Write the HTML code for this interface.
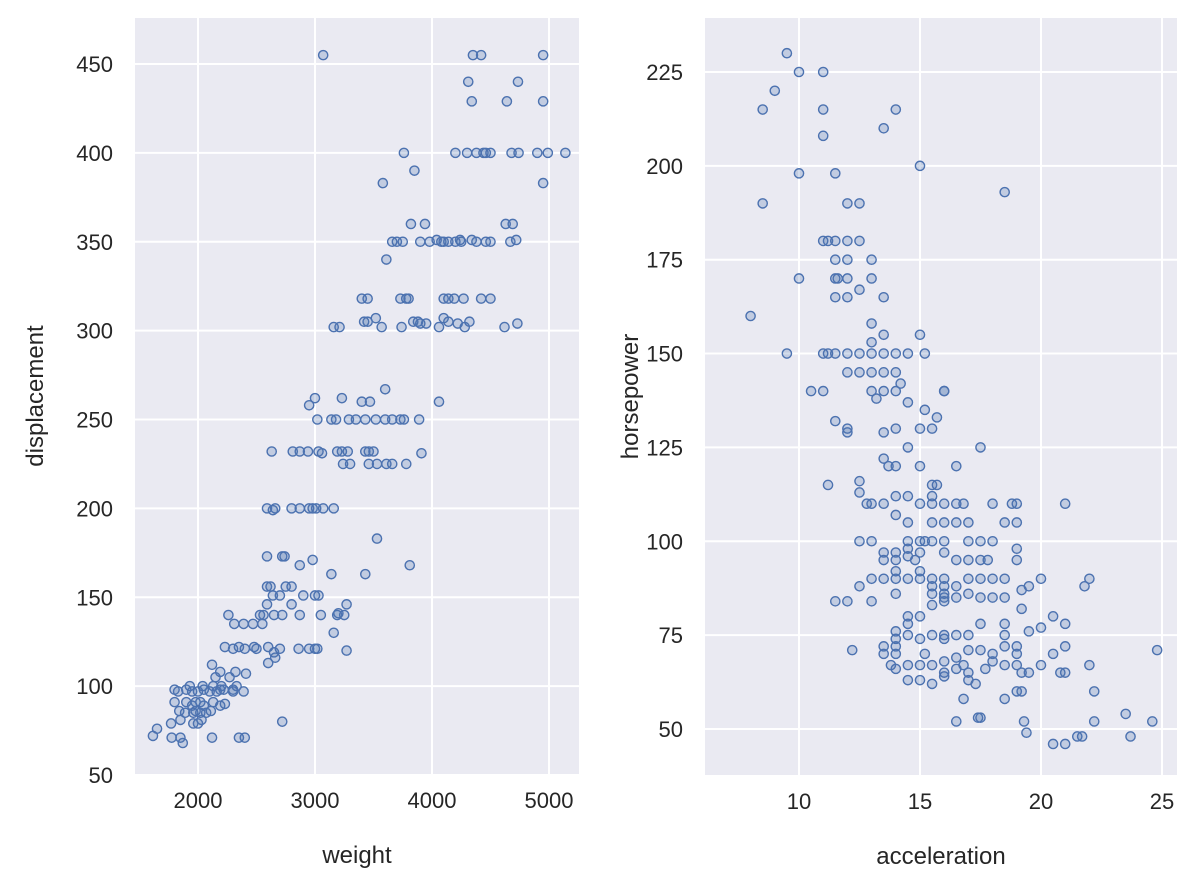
<!DOCTYPE html>
<html><head><meta charset="utf-8"><style>
body{margin:0;background:#fff;}
svg{font-family:"Liberation Sans","DejaVu Sans",sans-serif;}
</style></head><body>
<svg id="chart" width="1197" height="890" xmlns="http://www.w3.org/2000/svg"></svg>
<script>
const leftXTicks=[2000,3000,4000,5000];
const leftYTicks=[50,100,150,200,250,300,350,400,450];
const rightXTicks=[10,15,20,25];
const rightYTicks=[50,75,100,125,150,175,200,225];
const weight=[3070,4350,4420,4950,4310,4735,4340,4950,4640,3760,4200,4300,4380,4440,4460,4500,4680,4740,4900,4990,5140,3850,3580,4950,3820,3940,4630,4690,3660,3700,3750,3900,3980,4080,4100,4140,4200,4250,4380,4460,4500,4670,4040,4240,4720,4340,3610,3400,3450,3730,3780,3800,4100,4140,4190,4270,4420,4500,3160,3210,3420,3450,3520,3570,3740,3840,3880,3950,4060,4100,4140,4220,4280,4320,4620,4730,3900,3000,3230,3400,3470,4060,2950,3600,3020,3140,3180,3290,3350,3430,3520,3600,3660,3730,3890,3760,2630,2810,2870,2940,3030,3190,3230,3280,3430,3460,3500,3910,3240,3300,3460,3530,3610,3660,3780,3060,2590,2660,2800,2870,2950,2980,3010,3070,3160,2640,3530,2590,2720,2740,2980,2870,3810,3140,3430,2590,2620,2750,2800,2640,2700,2900,3000,3030,2590,2800,3270,3200,2260,2530,2560,2650,2720,2870,3050,3190,3250,2310,2390,2470,2550,3160,2300,2400,2500,2700,2860,2950,3000,3020,2600,2230,2350,2480,3270,2650,2600,2660,2410,2190,2320,2270,2150,2120,1930,2040,2130,2200,2330,1800,1900,2050,2190,2220,1830,1950,2000,2100,2160,2300,2390,1800,1900,1980,2020,2130,1950,2050,2190,1840,1980,2110,1890,1960,2020,2070,1850,2030,1770,1960,2000,1650,1615,1775,1850,2120,2350,2400,1870,2720,2230,2300];
const displacement=[455,455,455,455,440,440,429,429,429,400,400,400,400,400,400,400,400,400,400,400,400,390,383,383,360,360,360,360,350,350,350,350,350,350,350,350,350,350,350,350,350,350,351,351,351,351,340,318,318,318,318,318,318,318,318,318,318,318,302,302,305,305,307,302,302,305,305,304,302,307,305,304,302,305,302,304,304,262,262,260,260,260,258,267,250,250,250,250,250,250,250,250,250,250,250,250,232,232,232,232,232,232,232,232,232,232,232,231,225,225,225,225,225,225,225,231,200,200,200,200,200,200,200,200,200,199,183,173,173,173,171,168,168,163,163,156,156,156,156,151,151,151,151,151,146,146,146,141,140,140,140,140,140,140,140,140,140,135,135,135,135,130,121,121,121,121,121,121,121,121,122,122,122,122,120,119,113,116,107,108,108,105,105,112,100,100,100,100,100,98,98,98,98,98,97,97,97,97,97,97,97,91,91,91,91,91,89,89,89,86,86,86,85,85,85,85,81,81,79,79,79,76,72,71,71,71,71,71,68,80,90,98];
const acceleration=[
9.5,8.5,9,10,11,11,11,14,13.5,15,
11.5,10,8.5,12,12.5,18.5,10,11,11.2,11.5,
12,12.5,13,13,11.5,12,11.5,11.6,12,11.5,
12,13.5,12.5,8,9.5,11,11.2,11.5,12,12.5,
13,13.5,14,14.5,15.2,13,13,13.5,15,13,
13.5,14,12,12.5,10.5,11,13,13.2,13.5,14.2,
14,14.5,16,16,11.5,12,12,13.5,14,15,
15.2,15.5,15.7,17.5,14.5,13.5,13.7,14,15,16.5,
11.2,12.5,12.5,12.8,13,13.5,14,14.5,14,14.5,
15,15.5,15.7,15.5,15.5,16,16.5,16.8,15.5,16,
16.5,17,18,18.5,19,19,21,18.8,12.5,13,
14.5,15,15.2,15.5,16,17,17.5,18,19,19,
13.5,13.5,14.5,14,14.5,14,14.8,15,16,16.5,
17,17.5,17.8,13.5,14,14.5,15,15.5,15.5,16,
16,16.5,17,17.5,18,18.5,19.2,19.5,20,22,
21.8,13,14,15,15.5,16,16,16.5,17,17.5,
18,18.5,19.2,19.5,16,15.5,13,12,12.5,11.5,
14,14.5,15,14.5,14,14.5,15.5,16,16.5,17,
17.5,18.5,18.5,19,20,20.5,21,14,14,15,
16,17,17.5,18,18.5,19,20.5,21,13.5,13.5,
14,14.5,12.2,13.8,15,15.5,16,16.5,16.8,17,
17.7,18.5,19,19.2,19.5,20,20.8,21,22,14,
15,15.5,16,16.5,17,17.3,18,14.5,17.5,17.4,
16.5,16.8,18.5,19,19.2,19.3,19.4,20.5,21,21.5,
21.7,22.2,22.2,23.5,23.7,24.6,24.8,16,15.2];
const horsepower=[
230,215,220,225,225,215,208,215,210,200,
198,198,190,190,190,193,170,180,180,180,
180,180,175,170,175,175,170,170,170,165,
165,165,167,160,150,150,150,150,150,150,
150,150,150,150,150,158,153,155,155,145,
145,145,145,145,140,140,140,138,140,142,
140,137,140,140,132,130,129,129,130,130,
135,130,133,125,125,122,120,120,120,120,
115,116,113,110,110,110,112,112,107,105,
110,115,115,112,110,110,110,110,105,105,
105,105,110,105,110,105,110,110,100,100,
100,100,100,100,100,100,100,100,98,95,
97,95,98,97,96,95,95,97,97,95,
95,95,95,90,90,90,90,90,88,90,
88,88,90,90,90,90,87,88,90,90,
88,90,92,92,86,86,85,85,86,85,
85,85,82,76,84,83,84,84,88,84,
86,80,80,78,76,75,75,75,75,75,
78,78,75,70,77,80,78,74,72,74,
74,71,71,70,72,72,70,72,72,70,
70,67,71,67,67,67,68,69,67,65,
66,67,67,65,65,67,65,65,67,66,
63,62,64,66,63,62,68,63,53,53,
52,58,58,60,60,52,49,46,46,48,
48,52,60,54,48,52,71,65,70];

const NS="http://www.w3.org/2000/svg";
const svg=document.getElementById('chart');
function mk(tag,attrs,parent){const e=document.createElementNS(NS,tag);for(const k in attrs)e.setAttribute(k,attrs[k]);(parent||svg).appendChild(e);return e;}

function panel(cfg){
  const g=mk('g',{});
  
  
  const bg=mk('rect',{x:cfg.x0,y:cfg.y0,width:cfg.x1-cfg.x0,height:cfg.y1-cfg.y0,fill:'#eaeaf2'},g);
  
  
  const sx=v=>cfg.xa+(v-cfg.xv0)*cfg.xs;
  const sy=v=>cfg.ya-(v-cfg.yv0)*cfg.ys;
  cfg.xt.forEach(t=>{
    const X=sx(t);
    const l=mk('line',{x1:X,x2:X,y1:cfg.y0,y2:cfg.y1,stroke:'#fff','stroke-width':2},g);
    
    
    const tx=mk('text',{x:X,y:cfg.y1+34,'text-anchor':'middle','font-size':22,fill:'#262626'},g);
    tx.textContent=t;
    
    
  });
  cfg.yt.forEach(t=>{
    const Y=sy(t);
    if(Y>cfg.y0&&Y<cfg.y1){
      const l=mk('line',{x1:cfg.x0,x2:cfg.x1,y1:Y,y2:Y,stroke:'#fff','stroke-width':2},g);
      
      
    }
    const tx=mk('text',{x:cfg.x0-22,y:Y+8,'text-anchor':'end','font-size':22,fill:'#262626'},g);
    tx.textContent=t;
    
    
  });
  const n=Math.min(cfg.xd.length,cfg.yd.length);
  for(let i=0;i<n;i++){
    const c=mk('circle',{cx:sx(cfg.xd[i]),cy:sy(cfg.yd[i]),r:4.6,fill:'rgba(76,114,176,0.25)',stroke:'#4c72b0','stroke-width':1.4},g);
    
    
  }
  const xl=mk('text',{x:(cfg.x0+cfg.x1)/2,y:cfg.y1+89,'text-anchor':'middle','font-size':24,fill:'#262626'},g);
  xl.textContent=cfg.xlabel;
  
  
  const yx=cfg.ylx, yy=(cfg.y0+cfg.y1)/2;
  const yl=mk('text',{x:yx,y:yy,'text-anchor':'middle','font-size':24,fill:'#262626',transform:`rotate(-90 ${yx} ${yy})`},g);
  yl.textContent=cfg.ylabel;
  
  
}
panel({name:'weight-displacement-panel',x0:135,x1:579,y0:18,y1:774,xa:198,xv0:2000,xs:0.117,ya:775,yv0:50,ys:1.7775,xt:leftXTicks,yt:leftYTicks,xd:weight,yd:displacement,xlabel:'weight',ylabel:'displacement',ylx:43});
panel({name:'acceleration-horsepower-panel',x0:705,x1:1177,y0:18,y1:775,xa:799,xv0:10,xs:24.2,ya:72,yv0:225,ys:3.754,xt:rightXTicks,yt:rightYTicks,xd:acceleration,yd:horsepower,xlabel:'acceleration',ylabel:'horsepower',ylx:638});
</script>
</body></html>
